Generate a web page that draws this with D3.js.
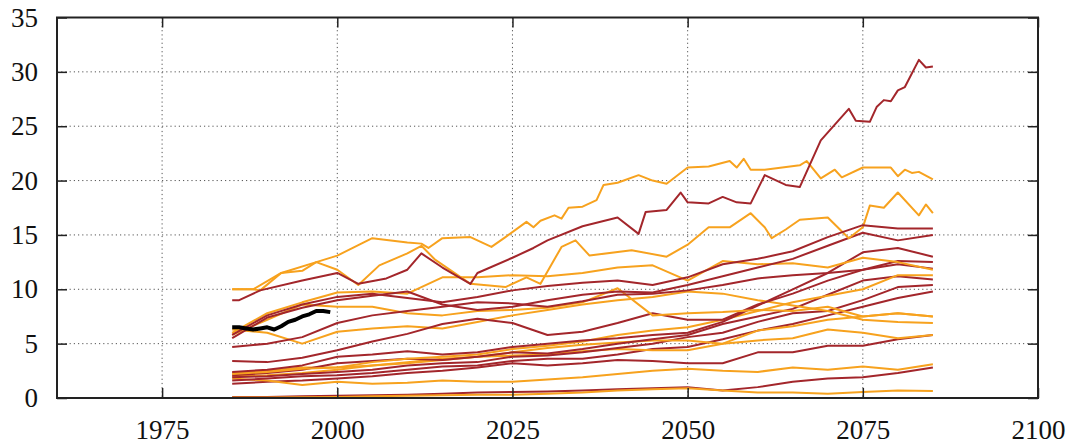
<!DOCTYPE html>
<html><head><meta charset="utf-8">
<script src="https://cdn.jsdelivr.net/npm/d3@7"></script>
<style>html,body{margin:0;padding:0;background:#fff;} svg{display:block;}
svg text{font-family:"Liberation Serif","Times New Roman",Times,"DejaVu Serif",serif;font-size:27px;}</style>
</head><body>
<svg id="chart" width="1081" height="448"></svg>
<script>
const years = [1985,1990,1995,2000,2005,2010,2015,2020,2025,2030,2035,2040,2045,2050,2055,2060,2065,2070,2075,2080,2085];
const xTicks = [1975,2000,2025,2050,2075,2100];
const yTicks = [0,5,10,15,20,25,30,35];

// dark red series (values at `years`, except red1 which has its own years)
const red1Years = [1985,1986,1989,1995,2000,2003,2007,2010,2012,2015,2019,2020,2025,2028,2030,2035,2040,2043,2044,2047,2049,2050,2053,2055,2057,2059,2061,2064,2066,2069,2073,2074,2076,2077,2078,2079,2080,2081,2083,2084,2085];
const red1  = [9.0, 9.0, 9.9, 10.8, 11.5, 10.5, 11.0, 11.8, 13.3, 12.0, 10.5, 11.5, 12.9, 13.8, 14.5, 15.8, 16.6, 15.1, 17.1, 17.3, 18.9, 18.0, 17.9, 18.5, 18.0, 17.9, 20.5, 19.6, 19.4, 23.7, 26.6, 25.5, 25.4, 26.8, 27.4, 27.3, 28.3, 28.6, 31.1, 30.4, 30.5];
const red2  = [5.8, 7.6, 8.6, 9.3, 9.6, 9.2, 8.8, 9.3, 9.9, 10.3, 10.6, 10.8, 10.4, 11.1, 12.3, 12.8, 13.5, 14.8, 15.9, 15.6, 15.6];
const red3  = [5.5, 7.4, 8.3, 9.0, 9.4, 9.8, 8.6, 8.1, 8.4, 9.0, 9.5, 9.8, 9.7, 10.4, 11.2, 12.0, 12.8, 14.0, 15.2, 14.5, 15.0];
const red4  = [4.7, 5.0, 5.6, 6.9, 7.6, 8.0, 8.4, 8.8, 8.7, 8.4, 8.9, 9.5, 9.6, 9.9, 10.4, 11.0, 11.3, 11.5, 11.8, 12.3, 11.9];
const red5  = [3.4, 3.3, 3.7, 4.4, 5.2, 5.9, 6.8, 7.3, 6.9, 5.8, 6.1, 6.9, 7.8, 7.2, 7.2, 8.6, 9.6, 10.8, 11.8, 12.6, 12.5];
const red6  = [2.4, 2.6, 3.0, 3.8, 4.0, 4.3, 4.0, 4.2, 4.7, 5.0, 5.3, 5.5, 5.8, 6.0, 7.0, 8.5, 10.0, 11.5, 13.4, 13.8, 13.0];
const red7  = [2.1, 2.3, 2.6, 3.2, 3.4, 3.6, 3.5, 3.8, 4.2, 4.1, 4.5, 5.0, 5.4, 5.8, 6.8, 7.5, 8.2, 9.5, 10.8, 11.2, 10.9];
const red8  = [1.9, 2.0, 2.2, 2.4, 2.6, 3.0, 3.2, 3.3, 3.8, 3.9, 4.2, 4.6, 5.0, 5.6, 6.0, 7.0, 7.8, 8.0, 9.0, 10.2, 10.4];
const red9  = [1.6, 1.8, 2.0, 2.1, 2.3, 2.6, 2.9, 3.0, 3.4, 3.6, 3.6, 4.0, 4.5, 4.7, 5.4, 6.2, 6.8, 7.6, 8.4, 9.2, 9.8];
const red10 = [1.3, 1.5, 1.6, 1.8, 2.0, 2.3, 2.5, 2.8, 3.2, 3.0, 3.2, 3.5, 3.4, 3.2, 3.2, 4.2, 4.2, 4.8, 4.8, 5.4, 5.8];
const red11 = [0.1, 0.1, 0.15, 0.2, 0.25, 0.3, 0.4, 0.5, 0.55, 0.6, 0.7, 0.8, 0.9, 1.0, 0.7, 1.0, 1.5, 1.8, 1.9, 2.3, 2.8];

// orange series
const orange1Years = [1985,1988,1989,1992,1995,1997,2000,2005,2010,2012,2013,2015,2019,2022,2024,2027,2028,2029,2031,2032,2033,2035,2037,2038,2040,2043,2045,2047,2050,2053,2056,2057,2058,2059,2061,2066,2067,2069,2071,2072,2075,2079,2080,2081,2082,2083,2085];
const orange1  = [10.0, 10.0, 9.9, 11.5, 11.7, 12.5, 13.1, 14.7, 14.3, 14.2, 13.8, 14.7, 14.8, 13.9, 14.8, 16.2, 15.7, 16.3, 16.8, 16.5, 17.5, 17.6, 18.2, 19.6, 19.8, 20.5, 20.0, 19.7, 21.2, 21.3, 21.8, 21.2, 22.0, 21.0, 21.0, 21.4, 21.8, 20.2, 21.0, 20.3, 21.2, 21.2, 20.4, 21.0, 20.7, 20.8, 20.1];
const orange2Years = [1985,1988,1992,1997,2000,2003,2006,2010,2012,2014,2019,2024,2027,2029,2032,2034,2036,2042,2047,2050,2053,2056,2059,2061,2062,2064,2066,2070,2073,2075,2076,2078,2080,2083,2084,2085];
const orange2  = [10.0, 10.0, 11.5, 12.5, 11.8, 10.4, 12.2, 13.3, 14.0, 12.7, 10.5, 10.2, 11.1, 10.5, 13.9, 14.5, 13.1, 13.6, 13.0, 14.1, 15.7, 15.7, 17.0, 15.7, 14.7, 15.5, 16.4, 16.6, 14.7, 15.7, 17.7, 17.5, 18.9, 16.8, 17.8, 17.0];
const orange3  = [6.0, 7.8, 8.8, 9.7, 9.8, 9.6, 11.1, 11.1, 11.3, 11.2, 11.5, 12.0, 12.2, 10.8, 12.6, 12.3, 12.4, 12.0, 12.9, 12.5, 11.8];
const orange4  = [5.8, 7.2, 8.6, 8.4, 8.4, 7.8, 7.6, 8.0, 8.1, 8.3, 8.8, 10.1, 7.6, 7.8, 7.9, 8.1, 8.0, 8.4, 7.5, 7.8, 7.5];
const orange5  = [6.3, 6.0, 5.0, 6.1, 6.4, 6.6, 6.4, 7.0, 7.6, 8.1, 8.6, 9.0, 9.3, 9.8, 9.6, 9.0, 8.5, 8.0, 7.2, 7.0, 6.9];
const orange6  = [2.3, 2.5, 2.8, 2.8, 3.0, 3.2, 3.5, 3.8, 4.2, 4.6, 4.9, 5.1, 5.3, 5.3, 5.0, 5.3, 5.5, 6.3, 6.0, 5.5, 5.8];
const orange7  = [2.0, 2.1, 2.3, 2.6, 3.0, 3.3, 3.6, 3.8, 3.9, 4.0, 4.3, 4.5, 4.4, 4.4, 5.0, 6.2, 6.6, 7.2, 7.5, 7.8, 7.5];
const orange8  = [1.8, 1.6, 1.2, 1.5, 1.3, 1.4, 1.6, 1.5, 1.5, 1.7, 1.9, 2.2, 2.5, 2.7, 2.5, 2.4, 2.8, 2.6, 2.9, 2.6, 3.1];
const orange9  = [0.05, 0.05, 0.08, 0.1, 0.15, 0.2, 0.25, 0.3, 0.3, 0.4, 0.5, 0.7, 0.8, 0.9, 0.7, 0.5, 0.5, 0.4, 0.55, 0.7, 0.65];
const orange10 = [2.2, 2.4, 2.7, 2.8, 3.3, 3.6, 3.8, 4.0, 4.5, 4.8, 5.2, 5.8, 6.2, 6.5, 7.2, 8.0, 8.8, 9.4, 10.0, 11.3, 11.3];

// observed (black)
const obsYears  = [1985,1986,1987,1988,1989,1990,1991,1992,1993,1994,1995,1996,1997,1998,1999];
const obsValues = [6.5, 6.5, 6.4, 6.3, 6.4, 6.5, 6.3, 6.6, 7.0, 7.2, 7.5, 7.7, 8.0, 8.0, 7.9];

const RED = "#a3262b", ORANGE = "#f7a21e";
const seriesList = [
  [years, red11, RED],[years, orange9, ORANGE],[years, red10, RED],[years, orange8, ORANGE],
  [years, red9, RED],[years, orange7, ORANGE],[years, red8, RED],[years, orange6, ORANGE],
  [years, red7, RED],[years, orange10, ORANGE],[years, red6, RED],[years, orange5, ORANGE],
  [years, red5, RED],[years, orange4, ORANGE],[years, red4, RED],[years, orange3, ORANGE],
  [years, red3, RED],[orange2Years, orange2, ORANGE],[years, red2, RED],
  [orange1Years, orange1, ORANGE],[red1Years, red1, RED]
];

const svg = d3.select("#chart");
const L = 57, R = 1038, T = 17.5, B = 398;
const x = d3.scaleLinear().domain([1960, 2100]).range([L, R]);
const y = d3.scaleLinear().domain([0, 35]).range([B, T]);

// grid
const grid = svg.append("g");
xTicks.filter(t => t > 1960 && t < 2100).forEach(t => {
  grid.append("line").attr("x1", x(t)).attr("x2", x(t)).attr("y1", T).attr("y2", B)
    .attr("stroke", "#555").attr("stroke-width", 1).attr("stroke-dasharray", "1.2,3");
});
yTicks.filter(t => t > 0 && t < 35).forEach(t => {
  grid.append("line").attr("x1", L).attr("x2", R).attr("y1", y(t)).attr("y2", y(t))
    .attr("stroke", "#555").attr("stroke-width", 1).attr("stroke-dasharray", "1.2,3");
});

// series
seriesList.forEach(([yrs, vals, col]) => {
  const ln = d3.line().x((d, i) => x(yrs[i])).y(d => y(d));
  svg.append("path").datum(vals).attr("d", ln).attr("fill", "none")
    .attr("stroke", col).attr("stroke-width", 2).attr("stroke-linejoin", "round");
});
const obsLine = d3.line().x((d, i) => x(obsYears[i])).y(d => y(d));
svg.append("path").datum(obsValues).attr("d", obsLine).attr("fill", "none")
  .attr("stroke", "#000").attr("stroke-width", 4).attr("stroke-linejoin", "round");

// axes (ticks inside, mirrored)
const axL = svg.append("g").attr("transform", `translate(${L},0)`)
  .call(d3.axisLeft(y).tickValues(yTicks).tickSize(-10).tickPadding(19).tickFormat(d3.format("d")));
const axR = svg.append("g").attr("transform", `translate(${R},0)`)
  .call(d3.axisRight(y).tickValues(yTicks).tickSize(-10).tickFormat(""));
const axB = svg.append("g").attr("transform", `translate(0,${B})`)
  .call(d3.axisBottom(x).tickValues(xTicks).tickSize(-10).tickPadding(22).tickFormat(d3.format("d")));
const axT = svg.append("g").attr("transform", `translate(0,${T})`)
  .call(d3.axisTop(x).tickValues(xTicks).tickSize(-10).tickFormat(""));
[axL, axR, axB, axT].forEach(a => {
  a.attr("font-family", null).attr("font-size", null);
  a.select(".domain").remove();
  a.selectAll(".tick line").attr("stroke", "#222").attr("stroke-width", 1.5);
  a.selectAll("text").attr("fill", "#111");
});

// frame
svg.append("rect").attr("x", L).attr("y", T).attr("width", R - L).attr("height", B - T)
  .attr("fill", "none").attr("stroke", "#222").attr("stroke-width", 2);
</script>
</body></html>
